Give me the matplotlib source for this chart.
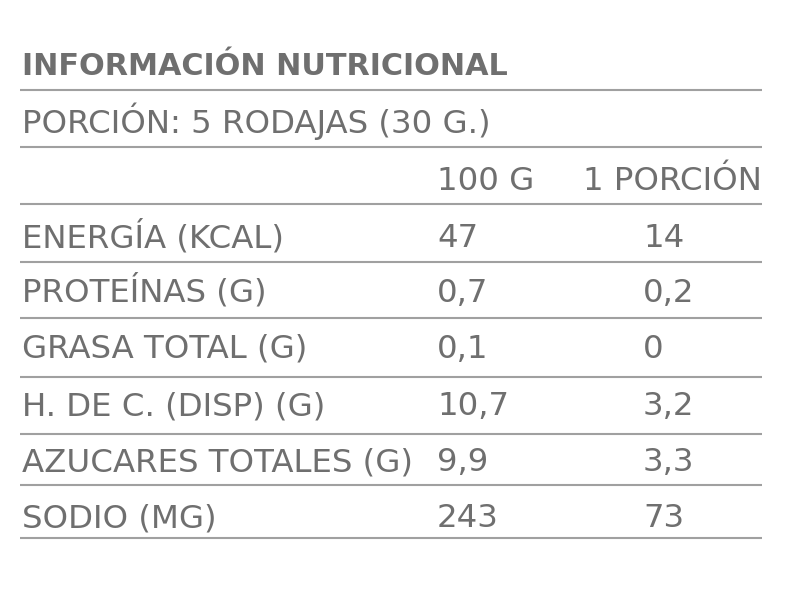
import matplotlib
matplotlib.use("Agg")
import matplotlib.pyplot as plt

title = "INFORMACIÓN NUTRICIONAL"
serving = "PORCIÓN: 5 RODAJAS (30 G.)"
col_headers = ["100 G", "1 PORCIÓN"]
row_labels = ["ENERGÍA (KCAL)", "PROTEÍNAS (G)", "GRASA TOTAL (G)",
              "H. DE C. (DISP) (G)", "AZUCARES TOTALES (G)", "SODIO (MG)"]
values_100g = ["47", "0,7", "0,1", "10,7", "9,9", "243"]
values_portion = ["14", "0,2", "0", "3,2", "3,3", "73"]

W, H = 806, 609
fig = plt.figure(figsize=(W / 100, H / 100), dpi=100)
ax = fig.add_axes([0, 0, 1, 1])
ax.set_xlim(0, W)
ax.set_ylim(H, 0)
ax.axis("off")

txt = "#6f6f6f"
line_c = "#a0a0a0"
fam = "DejaVu Sans"
fs = 23.3

x0, x1 = 20, 762
col_x = [437, 643]

ax.text(22, 75, title, fontsize=21.8, fontweight="bold", color=txt,
        family=fam, va="baseline", ha="left")
ax.hlines(90, x0, x1, color=line_c, lw=1.5)
ax.text(22, 133, serving, fontsize=fs, color=txt, family=fam, va="baseline")
ax.hlines(147, x0, x1, color=line_c, lw=1.5)
ax.text(col_x[0], 190, col_headers[0], fontsize=fs, color=txt, family=fam, va="baseline")
ax.text(x1, 190, col_headers[1], fontsize=fs, color=txt, family=fam, va="baseline", ha="right")
ax.hlines(204, x0, x1, color=line_c, lw=1.5)

baselines = [247, 302, 358, 415, 471, 527]
lines_y = [262, 318, 377, 434, 485, 538]
for lab, v1, v2, yb, yl in zip(row_labels, values_100g, values_portion, baselines, lines_y):
    ax.text(22, yb, lab, fontsize=fs, color=txt, family=fam, va="baseline")
    ax.text(col_x[0], yb, v1, fontsize=fs, color=txt, family=fam, va="baseline")
    ax.text(col_x[1], yb, v2, fontsize=fs, color=txt, family=fam, va="baseline")
    ax.hlines(yl, x0, x1, color=line_c, lw=1.5)

fig.savefig("out.png", dpi=100, facecolor="white")
